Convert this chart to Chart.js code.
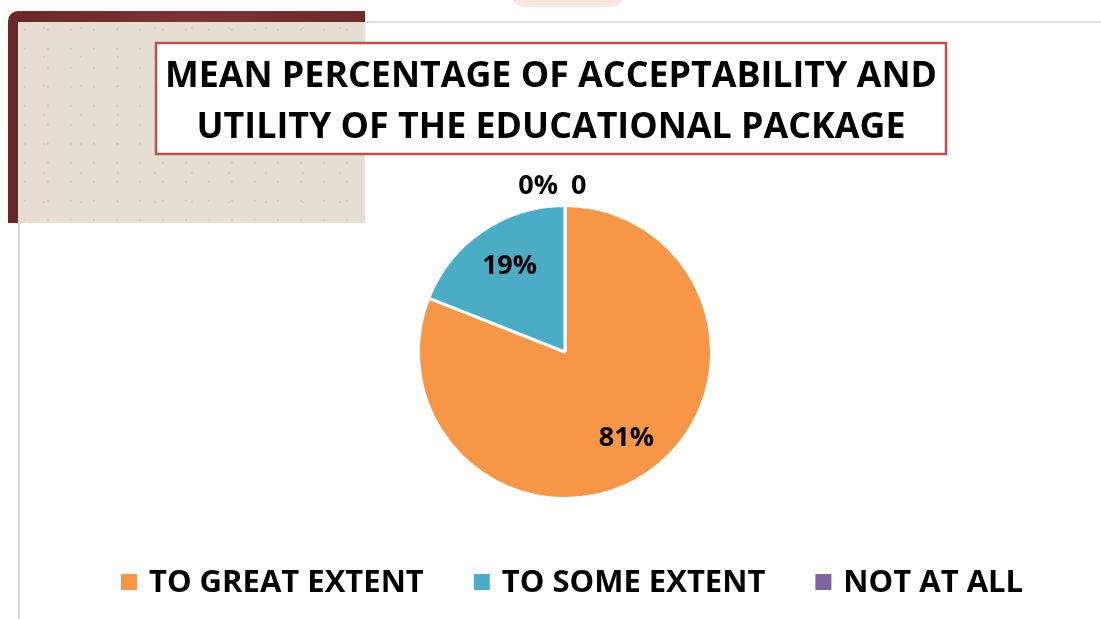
<!DOCTYPE html>
<html>
<head>
<meta charset="utf-8">
<script src="https://cdn.jsdelivr.net/npm/chart.js@4/dist/chart.umd.min.js"></script>
<style>
    html, body { margin: 0; padding: 0; background: #fff; }
    #page { position: relative; width: 1101px; height: 619px; overflow: hidden; }
    #frame-top { position: absolute; left: 365px; top: 21px; width: 736px; height: 2px; background: #e0e0e0; }
    #frame-left { position: absolute; left: 18px; top: 223px; width: 2px; height: 396px; background: #dcdcdc; }
    #ribbon { position: absolute; left: 8px; top: 11px; width: 357px; height: 212px; background: linear-gradient(90deg, #6a2727, #7d3333 50%, #6e2a2a); border-top-left-radius: 10px; }
    #paper {
        position: absolute; left: 18px; top: 22px; width: 347px; height: 201px;
        background-color: #e6ded2;
        background-image:
            radial-gradient(circle at 30% 40%, rgba(150, 140, 120, 0.2) 0.8px, transparent 1.4px),
            radial-gradient(circle at 70% 20%, rgba(150, 140, 120, 0.16) 0.8px, transparent 1.4px);
        background-size: 23px 19px, 37px 29px;
    }
    #scallop { position: absolute; left: 510px; top: -8px; width: 115px; height: 15px; border-radius: 0 0 20px 20px; background: #fbe6df; }
    canvas { position: absolute; left: 0; top: 0; }
</style>
</head>
<body>
<div id="page">
    <div id="scallop"></div>
    <div id="frame-top"></div>
    <div id="frame-left"></div>
    <div id="ribbon"></div>
    <div id="paper"></div>
    <canvas id="chart" width="1101" height="619"></canvas>
</div>
<script>
const CATEGORIES = ['TO GREAT EXTENT', 'TO SOME EXTENT', 'NOT AT ALL'];
const PERCENTS = [81, 19, 0];
const TITLE_LINES = ['MEAN PERCENTAGE OF ACCEPTABILITY AND', 'UTILITY OF THE EDUCATIONAL PACKAGE'];
const COLORS = ['#F79646', '#4BACC6', '#8064A2'];

const FONT = '"Open Sans", "DejaVu Sans", sans-serif';

// Boxed title, drawn over the paper patch
const titleBox = {
    id: 'titleBox',
    afterDraw(chart) {
        let ctx = chart.ctx;
        ctx.save();
        ctx.fillStyle = '#fff';
        ctx.fillRect(156, 43, 790, 111);
        ctx.strokeStyle = '#C0504D';
        ctx.lineWidth = 2.5;
        ctx.strokeRect(156, 43, 790, 111);
        ctx.fillStyle = '#000';
        ctx.font = 'bold 35.8px ' + FONT;
        ctx.textAlign = 'center';
        ctx.textBaseline = 'alphabetic';
        ctx.fillText(TITLE_LINES[0], 551, 87);
        ctx.fillText(TITLE_LINES[1], 551, 138);
        ctx.restore();
    }
};

// Percent labels inside the slices, zero slice labelled above the pie
const sliceLabels = {
    id: 'sliceLabels',
    afterDatasetsDraw(chart) {
        let ctx = chart.ctx;
        let meta = chart.getDatasetMeta(0);
        ctx.save();
        ctx.fillStyle = '#000';
        ctx.font = 'bold 27px ' + FONT;
        ctx.textBaseline = 'middle';

        meta.data.forEach((arc, i) => {
            let value = PERCENTS[i];
            let mid = (arc.startAngle + arc.endAngle) / 2;

            if (value == 0) {
                let y = arc.y - arc.outerRadius - 19;
                ctx.textAlign = 'right';
                ctx.fillText(value + '%', arc.x - 7, y);
                ctx.textAlign = 'left';
                ctx.fillText(String(value), arc.x + 6, y);
            } else {
                let r = arc.outerRadius * 0.71;
                ctx.textAlign = 'center';
                ctx.fillText(value + '%', arc.x + Math.cos(mid) * r + 3, arc.y + Math.sin(mid) * r);
            }
        });
        ctx.restore();
    }
};

// Single-row legend under the pie
const bottomLegend = {
    id: 'bottomLegend',
    afterDraw(chart) {
        let ctx = chart.ctx;
        let colors = chart.data.datasets[0].backgroundColor;
        let box = 16, gap = 12, spacing = 50, y = 583;

        ctx.save();
        ctx.font = 'bold 31px ' + FONT;
        ctx.textBaseline = 'middle';
        ctx.textAlign = 'left';

        let widths = chart.data.labels.map(label => ctx.measureText(label).width);
        let total = widths.reduce((a, w) => a + box + gap + w, 0) + spacing * (widths.length - 1);
        let x = 572 - total / 2;

        chart.data.labels.forEach((label, i) => {
            ctx.fillStyle = colors[i];
            ctx.fillRect(x, y - box / 2 - 1, box, box);
            x += box + gap;
            ctx.fillStyle = '#000';
            ctx.fillText(label, x, y);
            x += widths[i] + spacing;
        });
        ctx.restore();
    }
};

new Chart(document.getElementById('chart'), {
    type: 'pie',
    plugins: [titleBox, sliceLabels, bottomLegend],
    data: {
        labels: CATEGORIES,
        datasets: [{
            data: PERCENTS,
            backgroundColor: COLORS,
            borderColor: '#fff',
            borderWidth: 3
        }]
    },
    options: {
        responsive: false,
        animation: false,
        layout: {
            padding: { top: 204, bottom: 119, left: 417, right: 388 }
        },
        plugins: {
            legend: { display: false },
            title: { display: false },
            tooltip: { enabled: false }
        }
    }
});
</script>
</body>
</html>
